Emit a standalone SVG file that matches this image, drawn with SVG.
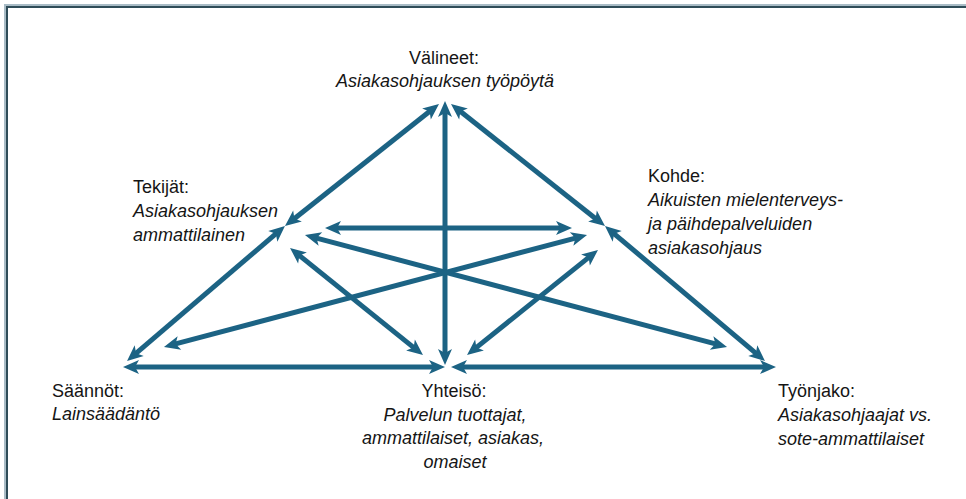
<svg xmlns="http://www.w3.org/2000/svg" width="966" height="499" viewBox="0 0 966 499">
  <style>
    .lbl { font-family: "Liberation Sans", Arial, sans-serif; font-size: 18px; fill: #151515; }
    .it { font-style: italic; }
    .mid { text-anchor: middle; }
    .link { stroke: #1c6384; stroke-width: 5; fill: none; marker-start: url(#head); marker-end: url(#head); }
  </style>
  <defs>
    <!-- notched arrowhead; the line stops at the notch, the tip sits 11px further on -->
    <marker id="head" viewBox="-6 -8 18 16" markerWidth="18" markerHeight="16" refX="0" refY="0" orient="auto-start-reverse" markerUnits="userSpaceOnUse">
      <path d="M11,0 L-5,-7 L-1,0 L-5,7 Z" fill="#1c6384"/>
    </marker>
  </defs>

  <rect x="0" y="0" width="966" height="499" fill="#ffffff"/>

  <!-- frame -->
  <path d="M6,499 V6 H966" fill="none" stroke="#a9bcc6" stroke-width="4"/>
  <path d="M7,499 V7 H966" fill="none" stroke="#2f4c58" stroke-width="2"/>

  <!-- connectors -->
  <g id="connectors">
    <line class="link" x1="430.4" y1="110.8" x2="293.6" y2="219.2"/>
    <line class="link" x1="276.6" y1="233.1" x2="135.4" y2="353.9"/>
    <line class="link" x1="459.6" y1="110.8" x2="596.4" y2="219.2"/>
    <line class="link" x1="613.4" y1="233.1" x2="756.6" y2="353.9"/>
    <line class="link" x1="134" y1="367" x2="434" y2="367"/>
    <line class="link" x1="462" y1="367" x2="765" y2="367"/>
    <line class="link" x1="445" y1="112" x2="445" y2="354"/>
    <line class="link" x1="336" y1="228" x2="561" y2="228"/>
    <line class="link" x1="315.6" y1="237.8" x2="716.4" y2="344.2"/>
    <line class="link" x1="576.4" y1="237.8" x2="174.6" y2="344.2"/>
    <line class="link" x1="298.6" y1="254.9" x2="414.4" y2="348.1"/>
    <line class="link" x1="589.4" y1="256.9" x2="475.6" y2="348.1"/>
  </g>

  <g id="valineet">
    <text class="lbl mid" x="444" y="64">Välineet:</text>
    <text class="lbl mid it" x="445" y="87">Asiakasohjauksen työpöytä</text>
  </g>

  <g id="tekijat">
    <text class="lbl" x="133" y="193">Tekijät:</text>
    <text class="lbl it" x="133" y="217">Asiakasohjauksen</text>
    <text class="lbl it" x="133" y="241">ammattilainen</text>
  </g>

  <g id="kohde">
    <text class="lbl" x="648" y="182">Kohde:</text>
    <text class="lbl it" x="648" y="206">Aikuisten mielenterveys-</text>
    <text class="lbl it" x="648" y="230">ja päihdepalveluiden</text>
    <text class="lbl it" x="648" y="254">asiakasohjaus</text>
  </g>

  <g id="saannot">
    <text class="lbl" x="52" y="397">Säännöt:</text>
    <text class="lbl it" x="52" y="420">Lainsäädäntö</text>
  </g>

  <g id="yhteiso">
    <text class="lbl mid" x="454" y="397">Yhteisö:</text>
    <text class="lbl mid it" x="455" y="421">Palvelun tuottajat,</text>
    <text class="lbl mid it" x="453" y="444">ammattilaiset, asiakas,</text>
    <text class="lbl mid it" x="455" y="468">omaiset</text>
  </g>

  <g id="tyonjako">
    <text class="lbl" x="778" y="397">Työnjako:</text>
    <text class="lbl it" x="778" y="421">Asiakasohjaajat vs.</text>
    <text class="lbl it" x="778" y="445">sote-ammattilaiset</text>
  </g>
</svg>
